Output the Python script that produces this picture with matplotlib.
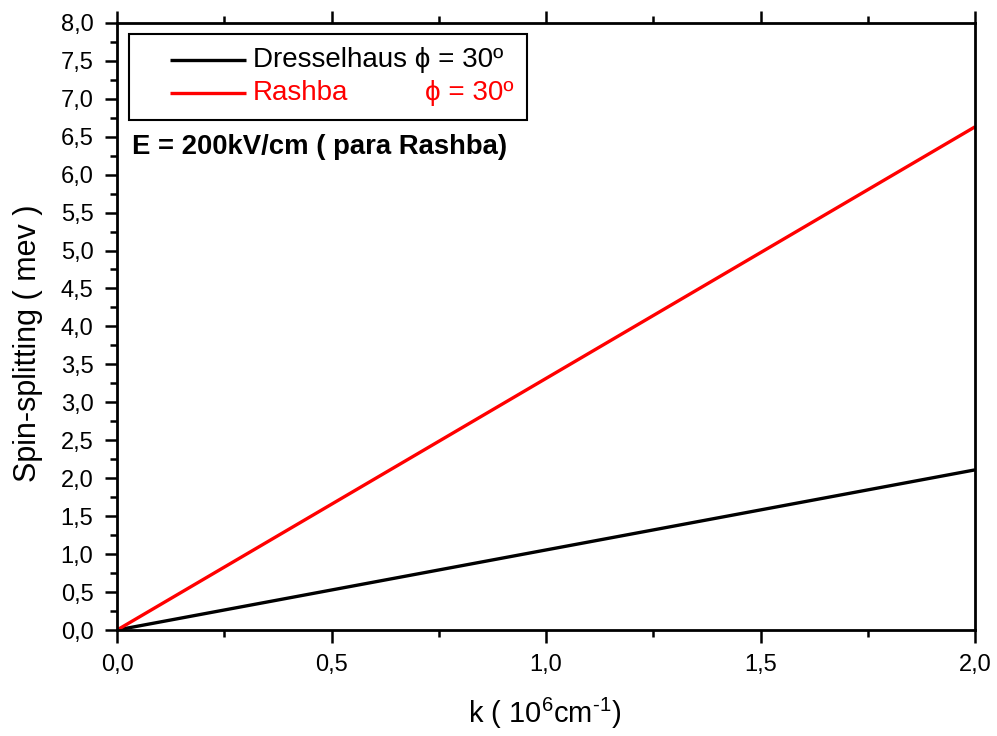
import matplotlib
matplotlib.use("Agg")
import matplotlib.pyplot as plt
from matplotlib.ticker import MultipleLocator, FuncFormatter

plt.rcParams['font.family'] = ['Liberation Sans', 'DejaVu Sans']
plt.rcParams['mathtext.fontset'] = 'custom'
plt.rcParams['mathtext.rm'] = 'Liberation Sans'
plt.rcParams['mathtext.it'] = 'Liberation Sans:italic'
plt.rcParams['mathtext.bf'] = 'Liberation Sans:bold'

k = [0.0, 2.0]
dresselhaus = [0.0, 2.11]
rashba = [0.0, 6.63]
label_d = "Dresselhaus ϕ = 30º"
label_r = "Rashba"
label_r_phi = "ϕ = 30º"
note = "E = 200kV/cm ( para Rashba)"

fig = plt.figure(figsize=(9.97, 7.36), dpi=100)
ax = fig.add_axes([0.1174, 0.144, 0.8606, 0.825])

ax.plot(k, dresselhaus, color='black', lw=2.4, solid_capstyle='butt')
ax.plot(k, rashba, color='#ff0000', lw=2.4, solid_capstyle='butt')

ax.set_xlim(0, 2.0)
ax.set_ylim(0, 8.0)

fmt = FuncFormatter(lambda v, p: f"{v:.1f}".replace('.', ','))
ax.xaxis.set_major_locator(MultipleLocator(0.5))
ax.xaxis.set_minor_locator(MultipleLocator(0.25))
ax.yaxis.set_major_locator(MultipleLocator(0.5))
ax.yaxis.set_minor_locator(MultipleLocator(0.25))
ax.xaxis.set_major_formatter(fmt)
ax.yaxis.set_major_formatter(fmt)

ax.tick_params(which='both', direction='out', width=1.8, top=True, right=False,
               labelsize=17, colors='black')
ax.tick_params(which='major', length=9, pad=8)
ax.tick_params(which='minor', length=5)
for s in ax.spines.values():
    s.set_linewidth(2.0)

ax.set_xlabel("k ( 10$^{6}$cm$^{\\text{-}1}$)", fontsize=21)
ax.xaxis.label.set_va('center')
ax.xaxis.set_label_coords(0.498, -0.138)
ax.set_ylabel("Spin-splitting ( mev )", fontsize=22)
ax.yaxis.label.set_va('center')
ax.yaxis.set_label_coords(-0.1037, 0.4718)

# legend box drawn in axes coordinates
T = ax.transAxes
box = plt.Rectangle((0.014, 0.840), 0.464, 0.141, transform=T, fill=True,
                    facecolor='white', edgecolor='black', lw=1.5, zorder=5)
ax.add_patch(box)
ax.plot([0.0618, 0.150], [0.939, 0.939], transform=T, color='black', lw=2.4,
        zorder=6, solid_capstyle='butt')
ax.plot([0.0618, 0.150], [0.884, 0.884], transform=T, color='#ff0000', lw=2.4,
        zorder=6, solid_capstyle='butt')
ax.text(0.1585, 0.939, label_d, transform=T, fontsize=20, va='center',
        ha='left', color='black', zorder=7)
ax.text(0.1585, 0.884, label_r, transform=T, fontsize=20, va='center',
        ha='left', color='#ff0000', zorder=7)
ax.text(0.359, 0.884, label_r_phi, transform=T, fontsize=20, va='center',
        ha='left', color='#ff0000', zorder=7)

ax.text(0.018, 0.795, note, transform=T, fontsize=19.8,
        fontweight='bold', va='center', ha='left')

fig.savefig("out.png", dpi=100)
